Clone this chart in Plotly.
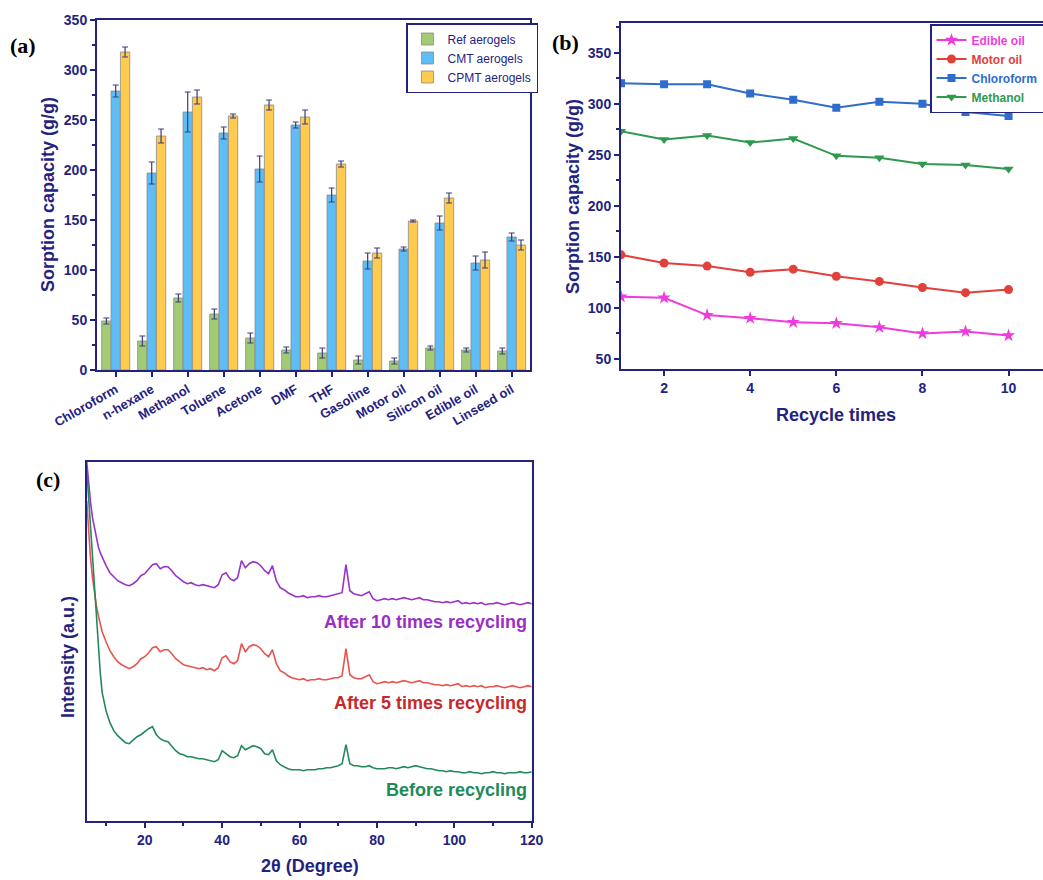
import plotly.graph_objects as go

W, H = 1043, 880
NAVY = "#23237F"

# ---------------- Panel (a) data ----------------
solvents = ["Chloroform", "n-hexane", "Methanol", "Toluene", "Acetone", "DMF", "THF",
            "Gasoline", "Motor oil", "Silicon oil", "Edible oil", "Linseed oil"]
ref_vals = [49, 29, 72, 56, 32, 20, 17, 10, 9, 22, 20, 19]
ref_err = [3, 5, 4, 5, 5, 3, 5, 4, 3, 2, 2, 3]
cmt_vals = [279, 197, 258, 237, 201, 245, 175, 109, 121, 147, 107, 133]
cmt_err = [6, 11, 20, 6, 13, 3, 7, 8, 2, 7, 7, 4]
cpmt_vals = [318, 234, 273, 254, 265, 253, 206, 117, 149, 172, 110, 125]
cpmt_err = [5, 7, 7, 2, 5, 7, 3, 5, 1, 5, 8, 5]

# ---------------- Panel (b) data ----------------
cycles = [1, 2, 3, 4, 5, 6, 7, 8, 9, 10]
edible_oil = [111, 110, 93, 90, 86, 85, 81, 75, 77, 73]
motor_oil = [152, 144, 141, 135, 138, 131, 126, 120, 115, 118]
chloroform = [320, 319, 319, 310, 304, 296, 302, 300, 292, 288]
methanol = [273, 265, 269, 262, 266, 249, 247, 241, 240, 236]

# ---------------- Panel (c) data ----------------
two_theta = [5, 5.5, 6, 6.5, 7, 7.5, 8, 8.5, 9] + list(range(10, 121))
after10 = [359, 335, 318, 303, 292, 283, 274, 268, 263,
           255, 248, 244, 240, 238, 236, 235, 237, 240, 245,
           247, 251, 256, 257, 252, 254, 254, 250, 245, 242,
           239, 237, 238, 236, 235, 236, 235, 234, 233, 236,
           246, 248, 242, 240, 243, 260, 253, 257, 259, 258,
           255, 250, 247, 255, 240, 233, 231, 228, 226, 224,
           224, 225, 223, 224, 224, 225, 224, 224, 225, 226,
           227, 228, 256, 230, 227, 226, 225, 227, 229, 222,
           220, 221, 222, 221, 222, 221, 222, 223, 222, 221,
           222, 223, 221, 221, 220, 219, 219, 218, 219, 218,
           219, 220, 217, 218, 217, 218, 217, 218, 216, 217,
           217, 218, 217, 216, 217, 218, 217, 216, 217, 218,
           217]
after5 = [320, 285, 262, 243, 228, 215, 205, 196, 189,
          179, 170, 164, 159, 156, 154, 152, 154, 157, 162,
          164, 168, 173, 174, 169, 171, 171, 167, 162, 159,
          156, 155, 154, 153, 152, 153, 151, 152, 150, 153,
          163, 165, 159, 157, 160, 177, 169, 174, 176, 175,
          172, 167, 164, 171, 157, 150, 148, 145, 143, 142,
          141, 142, 140, 141, 141, 142, 141, 141, 142, 143,
          143, 145, 172, 146, 143, 142, 142, 144, 146, 139,
          137, 138, 139, 138, 139, 138, 139, 140, 139, 138,
          139, 140, 138, 138, 137, 136, 136, 135, 136, 135,
          136, 137, 134, 135, 134, 135, 134, 135, 133, 134,
          134, 135, 134, 133, 134, 135, 134, 133, 134, 135,
          134]
before = [352, 322, 295, 265, 236, 205, 170, 148, 128,
          110, 98, 90, 85, 81, 78, 77, 81, 84, 86,
          89, 92, 94, 86, 82, 80, 79, 74, 70, 67,
          66, 64, 64, 63, 62, 62, 61, 60, 59, 61,
          70, 67, 64, 63, 65, 75, 71, 73, 75, 74,
          72, 67, 66, 71, 60, 56, 54, 52, 51, 51,
          51, 50, 51, 51, 51, 52, 52, 53, 53, 54,
          55, 57, 76, 57, 55, 55, 54, 54, 55, 53,
          52, 52, 52, 53, 53, 52, 53, 54, 53, 54,
          55, 54, 53, 52, 52, 51, 50, 50, 49, 50,
          49, 49, 48, 48, 49, 48, 48, 47, 48, 48,
          49, 48, 48, 47, 48, 48, 48, 49, 48, 48,
          49]


def px_x(p):
    return p / W


def px_y(p):
    return 1 - p / H


fig = go.Figure()

# ---- (a) bars ----
bar_specs = [("Ref aerogels", ref_vals, ref_err, "#A2CC74"),
             ("CMT aerogels", cmt_vals, cmt_err, "#5DBDF4"),
             ("CPMT aerogels", cpmt_vals, cpmt_err, "#FDCB4E")]
for name, vals, errs, col in bar_specs:
    fig.add_trace(go.Bar(
        x=solvents, y=vals, name=name, xaxis="x", yaxis="y", legend="legend",
        marker=dict(color=col, line=dict(color="#8C8C8C", width=0.8)),
        error_y=dict(type="data", array=errs, visible=True, color="#3D3D80",
                     thickness=1.2, width=3),
    ))

# ---- (b) lines ----
line_specs = [("Edible oil", edible_oil, "#EE3BDD", "star", 10),
              ("Motor oil", motor_oil, "#E2403A", "circle", 9),
              ("Chloroform", chloroform, "#2F6CCB", "square", 8),
              ("Methanol", methanol, "#2E9A4F", "triangle-down", 9)]
for name, vals, col, sym, sz in line_specs:
    fig.add_trace(go.Scatter(
        x=cycles, y=vals, mode="lines+markers", xaxis="x2", yaxis="y2",
        legend="legend2",
        name=f"<b><span style='color:{col}'>{name}</span></b>",
        line=dict(color=col, width=2),
        marker=dict(symbol=sym, size=sz, color=col),
    ))

# ---- (c) XRD ----
for vals, col in [(after10, "#9A33C8"), (after5, "#E5554D"), (before, "#23895A")]:
    fig.add_trace(go.Scatter(
        x=two_theta, y=vals, mode="lines", xaxis="x3", yaxis="y3",
        line=dict(color=col, width=1.6), showlegend=False,
    ))

tickfont = dict(family="Liberation Sans", size=14, color=NAVY, weight="bold")
axis_common = dict(showline=True, linecolor=NAVY, linewidth=2, mirror=True,
                   ticks="outside", tickcolor=NAVY, tickwidth=1.5, ticklen=5,
                   showgrid=False, zeroline=False, tickfont=tickfont, automargin=False)

fig.update_layout(
    width=W, height=H,
    margin=dict(l=0, r=0, t=0, b=0, autoexpand=False),
    paper_bgcolor="white", plot_bgcolor="white",
    barmode="group", bargap=0.22, bargroupgap=0,
    font=dict(family="Liberation Sans", color=NAVY),
    xaxis=dict(domain=[px_x(97), px_x(530)], anchor="y", type="category",
               range=[-0.52, 11.51], tickangle=-30,
               **{**axis_common, "tickfont": dict(family="Liberation Sans", size=13,
                                                   color=NAVY, weight="bold")}),
    yaxis=dict(domain=[px_y(370), px_y(20)], anchor="x", range=[0, 350],
               tickvals=[0, 50, 100, 150, 200, 250, 300, 350],
               minor=dict(dtick=25, ticks="outside", ticklen=3, tickcolor=NAVY),
               **axis_common),
    xaxis2=dict(domain=[px_x(621), 1.0], anchor="y2", range=[1, 10.8],
                tickvals=[2, 4, 6, 8, 10], **axis_common),
    yaxis2=dict(domain=[px_y(369), px_y(22.7)], anchor="x2", range=[40.2, 379.4],
                tickvals=[50, 100, 150, 200, 250, 300, 350],
                minor=dict(dtick=25, ticks="outside", ticklen=3, tickcolor=NAVY),
                **axis_common),
    xaxis3=dict(domain=[px_x(86.7), px_x(531.7)], anchor="y3", range=[5, 120],
                tickvals=[20, 40, 60, 80, 100, 120],
                minor=dict(tickvals=[10, 30, 50, 70, 90, 110], ticks="outside",
                           ticklen=3, tickcolor=NAVY),
                **axis_common),
    yaxis3=dict(domain=[px_y(820.7), px_y(461.7)], anchor="x3", range=[0, 359],
                showticklabels=False,
                **{**axis_common, "ticks": ""}),
    legend=dict(x=px_x(406), y=px_y(23), xanchor="left", yanchor="top",
                bgcolor="white", bordercolor=NAVY, borderwidth=1.5,
                font=dict(family="Liberation Sans", size=12, color=NAVY),
                tracegroupgap=0, itemwidth=30),
    legend2=dict(x=px_x(930), y=px_y(24), xanchor="left", yanchor="top",
                 bgcolor="white", bordercolor=NAVY, borderwidth=1.5,
                 font=dict(family="Liberation Sans", size=12, color=NAVY),
                 tracegroupgap=0),
)

ann = []
# panel labels
for txt, x, y in [("(a)", 23, 46), ("(b)", 565, 43), ("(c)", 48, 479)]:
    ann.append(dict(text=f"<b>{txt}</b>", x=px_x(x), y=px_y(y), xref="paper", yref="paper",
                    xanchor="center", yanchor="middle", showarrow=False,
                    font=dict(family="Liberation Serif", size=22, color="black")))
# axis titles
title_font = dict(family="Liberation Sans", size=18, color=NAVY, weight="bold")
for txt, x, y, ang in [("Sorption capacity (g/g)", 48, 195, -90),
                       ("Sorption capacity (g/g)", 573, 197, -90),
                       ("Recycle times", 836, 415, 0),
                       ("Intensity (a.u.)", 68, 657, -90),
                       ("2θ (Degree)", 310, 866, 0)]:
    ann.append(dict(text=txt, x=px_x(x), y=px_y(y), textangle=ang,
                    xanchor="center", yanchor="middle",
                    xref="paper", yref="paper", showarrow=False, font=title_font))
# curve labels in (c)
for txt, y, col in [("After 10 times recycling", 622, "#9A2FC6"),
                    ("After 5 times recycling", 703, "#C8282A"),
                    ("Before recycling", 790, "#1F8A58")]:
    ann.append(dict(text=txt, x=px_x(529), y=px_y(y), xanchor="right", yanchor="middle",
                    xref="paper", yref="paper", showarrow=False,
                    font=dict(family="Liberation Sans", size=18, color=col, weight="bold")))
fig.update_layout(annotations=ann)

fig.write_html("out.html", config={"displayModeBar": False},
               post_script="document.body.style.margin='0';document.body.style.overflow='hidden';")
